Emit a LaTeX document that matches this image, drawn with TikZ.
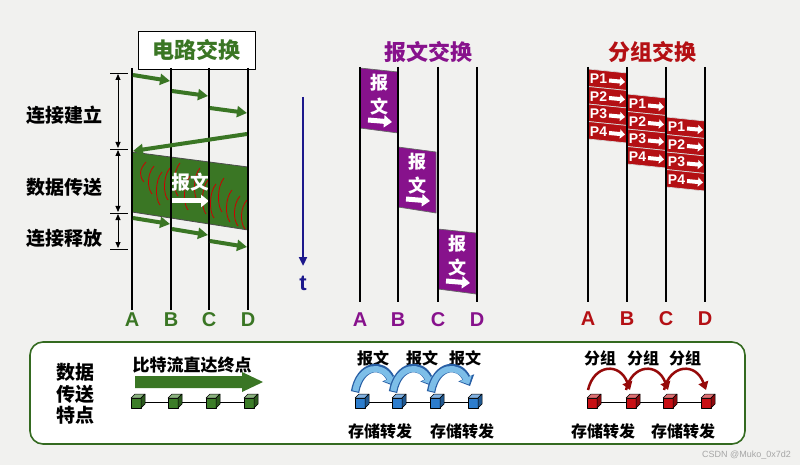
\documentclass[tikz,border=0pt]{standalone}
\usepackage{fontspec}
\setmainfont{Liberation Sans}
\newfontfamily\cjk{Noto Sans CJK SC}
\usetikzlibrary{arrows.meta}
\definecolor{cgreen}{RGB}{58,118,36}
\definecolor{cpurple}{RGB}{135,18,140}
\definecolor{cred}{RGB}{180,16,20}
\definecolor{dred}{RGB}{150,10,10}
\definecolor{cnavy}{RGB}{28,24,140}
\definecolor{bgc}{RGB}{241,241,239}
\definecolor{lblue}{RGB}{125,190,232}
\definecolor{dblue}{RGB}{40,95,165}
\definecolor{cubeb}{RGB}{45,125,205}
\definecolor{cubeg}{RGB}{60,125,40}
\definecolor{cuber}{RGB}{200,15,20}
\tikzset{
  vline/.style={line width=2.2pt, black},
  garrow/.style={cgreen, line width=4pt, -{Triangle[length=10pt,width=11pt]}},
  zh/.style={font=\cjk\bfseries\fontsize{#1}{#1}\selectfont, inner sep=0pt},
  lat/.style={font=\bfseries\fontsize{#1}{#1}\selectfont, inner sep=0pt},
  warrow/.style={white, line width=5pt, -{Triangle[length=8pt,width=12pt]}},
  pktxt/.style={font=\bfseries\fontsize{14}{14}\selectfont, white, inner sep=0pt},
  dbl/.style={line width=0.8pt, {Triangle[length=6pt,width=5pt]}-{Triangle[length=6pt,width=5pt]}},
  tick/.style={line width=0.8pt},
  scrib/.style={red!80!black, line width=0.8pt}
}
\newcommand\mycube[4]{% x y color name
  \coordinate (#4) at (#1,#2);
  \filldraw[fill=#3, draw=black, line width=0.5pt] (#1-6,#2-4) rectangle (#1+4,#2+6);
  \filldraw[fill=#3!60!white, draw=black, line width=0.5pt] (#1-6,#2-4) -- (#1-2,#2-8) -- (#1+8,#2-8) -- (#1+4,#2-4) -- cycle;
  \filldraw[fill=#3!70!black, draw=black, line width=0.5pt] (#1+4,#2-4) -- (#1+8,#2-8) -- (#1+8,#2+2) -- (#1+4,#2+6) -- cycle;
}
\newcommand\mypkt[4]{% xleft ytop label name
  \filldraw[fill=cred, draw=white!85!black, line width=0.7pt] (#1,#2) -- ++(39,4) -- ++(0,17.5) -- ++(-39,-4) -- cycle;
  \node[pktxt] (#4) at (#1+10.5,#2+10) {#3};
  \draw[white, line width=4pt, -{Triangle[length=5pt,width=9pt]}] (#1+21,#2+11.5) coordinate (#4s) -- (#1+37,#2+13) coordinate (#4e);
}
\newcommand\mymsg[4]{% xleft ytopleft ytopright name
  \filldraw[fill=cpurple, draw=black!60, line width=0.7pt] (#1,#2) -- (#1+38,#3) -- (#1+38,#3+61) -- (#1,#2+60) -- cycle;
  \node[zh=18, white] (#4a) at (#1+19,#2+15) {报};
  \node[zh=18, white] (#4b) at (#1+19,#2+39) {文};
  \draw[warrow] (#1+8,#2+52) coordinate (#4s) -- (#1+32,#2+54) coordinate (#4e);
}
\begin{document}
\begin{tikzpicture}[x=1pt,y=-1pt,line join=round]
\useasboundingbox (0,0) rectangle (800,465);
\fill[bgc] (0,0) rectangle (800,465);

% ================= circuit switching =================
\node[draw=black, line width=0.8pt, fill=white, minimum width=117pt, minimum height=38pt, inner sep=0pt] (ctitlebox) at (196.5,50) {};
\node[zh=22, cgreen] (ctitle) at (ctitlebox.center) {电路交换};

\filldraw[fill=cgreen, draw=black!70, line width=0.8pt] (132,152) coordinate (dA1) -- (248,167) coordinate (dD1) -- (248,230) coordinate (dD2) -- (132,212) coordinate (dA2) -- cycle;
% scribbles
\foreach \x/\ya/\yb in {142/162/182,150/166/194,158/172/205,166/168/200,176/163/196,186/176/210,196/168/202,204/180/214,212/184/218,220/178/212,228/190/222,236/196/226,243/200/229}{
  \draw[scrib] (\x+4,\ya) .. controls (\x-3,\ya+8) and (\x-3,\yb-6) .. (\x+2,\yb);
}
\node[zh=19, white] (cmsg) at (190,182) {报文};
\draw[warrow] (170,201) coordinate (cws) -- (209,201) coordinate (cwe);

\foreach \n/\x in {A/132,B/171,C/209,D/248}{
  \coordinate (c\n t) at (\x,68);
  \coordinate (c\n b) at (\x,310);
  \draw[vline] (c\n t) -- (c\n b);
  \node[lat=20, cgreen] (cl\n) at (\x,320) {\n};
}
% setup arrows
\coordinate (s1) at (133,75);  \coordinate (s2) at (170,81);
\coordinate (s3) at (172,91);  \coordinate (s4) at (208,96);
\coordinate (s5) at (210,108); \coordinate (s6) at (247,113);
\coordinate (r1) at (247,134); \coordinate (r2) at (133,151);
\draw[garrow] (s1) -- (s2);
\draw[garrow] (s3) -- (s4);
\draw[garrow] (s5) -- (s6);
\draw[garrow] (r1) -- (r2);
% release arrows
\coordinate (e1) at (133,218); \coordinate (e2) at (170,224);
\coordinate (e3) at (172,229); \coordinate (e4) at (208,235);
\coordinate (e5) at (210,241); \coordinate (e6) at (247,247);
\draw[garrow] (e1) -- (e2);
\draw[garrow] (e3) -- (e4);
\draw[garrow] (e5) -- (e6);

% phase marks
\foreach \i/\y in {1/73,2/149,3/213,4/249}{
  \coordinate (tl\i) at (110,\y); \coordinate (tr\i) at (128,\y);
  \draw[tick] (tl\i) -- (tr\i);
}
\coordinate (m1) at (118,74);  \coordinate (m2) at (118,148);
\coordinate (m3) at (118,150); \coordinate (m4) at (118,212);
\coordinate (m5) at (118,214); \coordinate (m6) at (118,248);
\draw[dbl] (m1) -- (m2);
\draw[dbl] (m3) -- (m4);
\draw[dbl] (m5) -- (m6);
\node[zh=19] (p1) at (65,115) {连接建立};
\node[zh=19] (p2) at (64,187) {数据传送};
\node[zh=19] (p3) at (64,238) {连接释放};

% time arrow
\node[lat=22, cnavy] (tlabel) at (303,283) {t};
\coordinate (t0) at (303,97);
\coordinate (t1) at (303,266);
\draw[cnavy, line width=2.5pt, -{Triangle[length=9pt,width=8pt]}] (t0) -- (t1);

% ================= message switching =================
\node[zh=22, cpurple] (mtitle) at (428,52) {报文交换};
\mymsg{360}{68}{72}{mb1}
\mymsg{398}{147}{152}{mb2}
\mymsg{438}{229}{233}{mb3}
\foreach \n/\x in {A/360,B/398,C/438,D/477}{
  \coordinate (m\n t) at (\x,67);
  \coordinate (m\n b) at (\x,302);
  \draw[vline] (m\n t) -- (m\n b);
  \node[lat=20, cpurple] (ml\n) at (\x,320) {\n};
}

% ================= packet switching =================
\node[zh=22, cred] (ptitle) at (652,52) {分组交换};
\foreach \c/\x/\y in {1/588/69,2/627/94,3/666/117}{
  \mypkt{\x}{\y}{P1}{pk\c a}
  \mypkt{\x}{\y+17.5}{P2}{pk\c b}
  \mypkt{\x}{\y+35}{P3}{pk\c c}
  \mypkt{\x}{\y+52.5}{P4}{pk\c d}
}
\foreach \n/\x in {A/588,B/627,C/666,D/705}{
  \coordinate (p\n t) at (\x,67);
  \coordinate (p\n b) at (\x,302);
  \draw[vline] (p\n t) -- (p\n b);
  \node[lat=20, cred] (pl\n) at (\x,319) {\n};
}

% ================= bottom box =================
\node[draw=cgreen!90!black, line width=1.6pt, fill=white, rounded corners=13pt, minimum width=715pt, minimum height=102pt, inner sep=0pt] (bbox) at (387.5,393) {};
\node[font=\cjk\bfseries\fontsize{19}{21.5}\selectfont, inner sep=0pt, align=center] (feat) at (75,394) {数据\\传送\\特点};

% circuit: bit stream
\node[zh=17] (bits) at (192,365) {比特流直达终点};
\fill[cgreen] (135,376) -- (242,376) -- (242,372) -- (263,382) -- (242,392) -- (242,388) -- (135,388) -- cycle;
\coordinate (gl) at (137,402); \coordinate (gr) at (250,402);
\draw[line width=0.7pt] (gl) -- (gr);
\mycube{137}{402}{cubeg}{g1}
\mycube{174}{402}{cubeg}{g2}
\mycube{212}{402}{cubeg}{g3}
\mycube{250}{402}{cubeg}{g4}

% message: store and forward
\node[zh=16] (bm1) at (373,358) {报文};
\node[zh=16] (bm2) at (422,358) {报文};
\node[zh=16] (bm3) at (465,358) {报文};
\coordinate (bl) at (361,402); \coordinate (br) at (474,402);
\draw[line width=0.7pt] (bl) -- (br);
\foreach \a/\b in {355/394,393/432,431/470}{
  \draw[dblue, line width=8.5pt, -{Triangle[length=9pt,width=17pt]}] (\a,392) .. controls (\a+5,364) and (\a+28,362) .. (\b,386);
  \draw[lblue, line width=6pt, -{Triangle[length=7pt,width=13pt]}] (\a+0.3,391) .. controls (\a+5,365) and (\a+27.5,363.5) .. (\b-1,384.5);
}
\mycube{361}{402}{cubeb}{b1}
\mycube{398}{402}{cubeb}{b2}
\mycube{436}{402}{cubeb}{b3}
\mycube{474}{402}{cubeb}{b4}
\node[zh=16] (sf1) at (380,431) {存储转发};
\node[zh=16] (sf2) at (462,431) {存储转发};

% packet: store and forward
\node[zh=16] (bp1) at (600,358) {分组};
\node[zh=16] (bp2) at (643,358) {分组};
\node[zh=16] (bp3) at (685,358) {分组};
\coordinate (rl) at (593,402); \coordinate (rr) at (707,402);
\draw[line width=0.7pt] (rl) -- (rr);
\foreach \a/\b in {588/630,626/668,664/706}{
  \draw[dred, line width=2.5pt, -{Triangle[length=8pt,width=10pt]}] (\a,390) .. controls (\a+6,364) and (\b-10,362) .. (\b,390);
}
\mycube{593}{402}{cuber}{r1c}
\mycube{632}{402}{cuber}{r2c}
\mycube{669}{402}{cuber}{r3c}
\mycube{707}{402}{cuber}{r4c}
\node[zh=16] (sf3) at (603,431) {存储转发};
\node[zh=16] (sf4) at (683,431) {存储转发};

\node[font=\fontsize{9}{9}\selectfont, text=black!35, anchor=east, inner sep=0pt] (wm) at (791,455) {CSDN @Muko\_0x7d2};
\end{tikzpicture}
\end{document}
